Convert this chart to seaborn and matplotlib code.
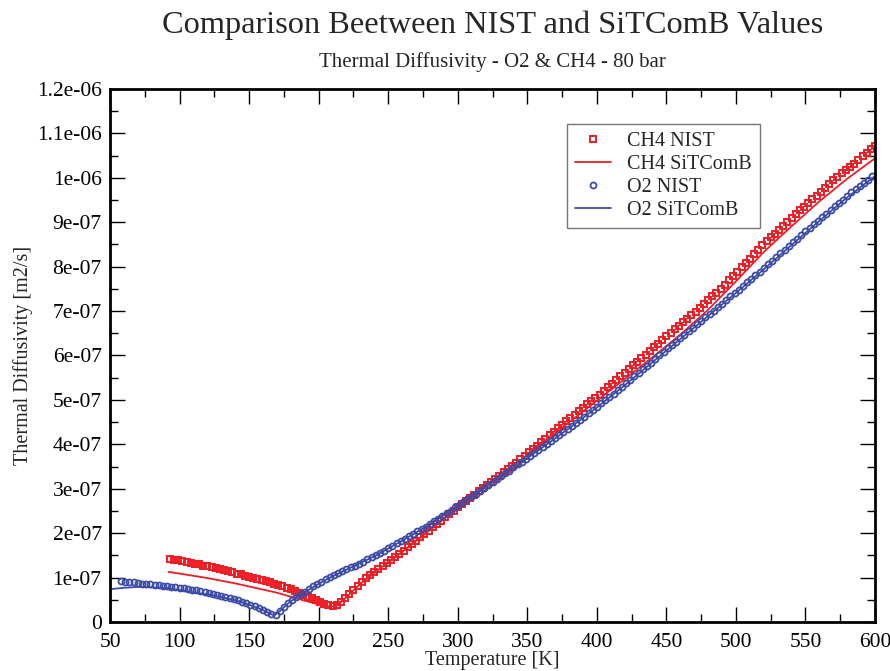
import numpy as np
import matplotlib
matplotlib.use('Agg')
import matplotlib.pyplot as plt
from matplotlib.ticker import MultipleLocator, FuncFormatter
import seaborn as sns

# values are in units of 1e-07 m2/s

# CH4 NIST: temperature grid 93 K .. 600 K every 3 K (one row = 30 K)
ch4_nist_T = np.arange(93, 601, 3)
ch4_nist = [
    1.42, 1.40, 1.385, 1.37, 1.35, 1.335, 1.315, 1.295, 1.27, 1.25,
    1.23, 1.21, 1.19, 1.165, 1.14, 1.115, 1.09, 1.07, 1.045, 1.02,
    0.995, 0.965, 0.94, 0.915, 0.89, 0.865, 0.84, 0.81, 0.775, 0.74,
    0.70, 0.66, 0.615, 0.57, 0.53, 0.49, 0.45, 0.41, 0.38, 0.36,
    0.38, 0.46, 0.55, 0.64, 0.73, 0.82, 0.90, 0.98, 1.05, 1.12,
    1.19, 1.26, 1.33, 1.40, 1.47, 1.54, 1.61, 1.69, 1.76, 1.83,
    1.91, 1.98, 2.06, 2.13, 2.21, 2.28, 2.36, 2.43, 2.51, 2.58,
    2.65, 2.72, 2.80, 2.87, 2.94, 3.01, 3.08, 3.15, 3.22, 3.29,
    3.37, 3.44, 3.52, 3.59, 3.67, 3.74, 3.82, 3.90, 3.97, 4.05,
    4.13, 4.21, 4.28, 4.36, 4.44, 4.52, 4.60, 4.67, 4.75, 4.82,
    4.90, 4.97, 5.05, 5.12, 5.20, 5.28, 5.36, 5.44, 5.53, 5.61,
    5.69, 5.78, 5.86, 5.94, 6.02, 6.11, 6.19, 6.27, 6.35, 6.43,
    6.51, 6.59, 6.67, 6.75, 6.83, 6.91, 6.99, 7.07, 7.16, 7.24,
    7.33, 7.41, 7.50, 7.59, 7.69, 7.79, 7.89, 7.99, 8.08, 8.18,
    8.28, 8.38, 8.48, 8.57, 8.66, 8.74, 8.83, 8.92, 9.01, 9.10,
    9.18, 9.27, 9.35, 9.44, 9.52, 9.60, 9.69, 9.77, 9.86, 9.94,
    10.02, 10.10, 10.17, 10.25, 10.32, 10.40, 10.48, 10.56, 10.64, 10.72,
]

# CH4 SiTComB (line)
ch4_sit_T = [92, 100, 110, 120, 130, 140, 150, 160, 170, 180, 190, 200, 205,
             210, 215, 220, 230, 240, 260, 280, 300, 320, 340, 360, 380, 400,
             420, 440, 460, 480, 500, 520, 540, 560, 580, 600]
ch4_sit = [1.13, 1.09, 1.04, 0.99, 0.93, 0.87, 0.80, 0.73, 0.66, 0.57, 0.48,
           0.40, 0.36, 0.35, 0.42, 0.56, 0.86, 1.11, 1.58, 2.07, 2.57, 3.04,
           3.52, 4.01, 4.50, 4.98, 5.47, 5.96, 6.47, 7.03, 7.67, 8.33, 8.91,
           9.47, 9.98, 10.44]

# O2 NIST: temperature grid 58 K .. 598 K every 3 K (one row = 30 K)
o2_nist_T = np.arange(58, 599, 3)
o2_nist = [
    0.92, 0.91, 0.90, 0.89, 0.87, 0.865, 0.855, 0.845, 0.835, 0.83,
    0.815, 0.805, 0.79, 0.78, 0.77, 0.755, 0.74, 0.725, 0.71, 0.69,
    0.67, 0.655, 0.635, 0.61, 0.59, 0.57, 0.545, 0.52, 0.49, 0.46,
    0.425, 0.39, 0.35, 0.31, 0.27, 0.22, 0.18, 0.16, 0.24, 0.34,
    0.43, 0.50, 0.56, 0.62, 0.68, 0.74, 0.80, 0.85, 0.91, 0.96,
    1.01, 1.05, 1.10, 1.14, 1.19, 1.23, 1.27, 1.31, 1.36, 1.41,
    1.46, 1.51, 1.56, 1.61, 1.66, 1.71, 1.77, 1.82, 1.88, 1.93,
    1.98, 2.04, 2.10, 2.15, 2.21, 2.27, 2.33, 2.39, 2.45, 2.51,
    2.58, 2.64, 2.70, 2.77, 2.83, 2.89, 2.96, 3.02, 3.08, 3.15,
    3.22, 3.28, 3.35, 3.41, 3.48, 3.55, 3.61, 3.68, 3.74, 3.81,
    3.88, 3.94, 4.01, 4.07, 4.14, 4.21, 4.28, 4.35, 4.42, 4.49,
    4.55, 4.62, 4.70, 4.77, 4.84, 4.92, 4.99, 5.07, 5.14, 5.22,
    5.30, 5.38, 5.45, 5.53, 5.61, 5.69, 5.77, 5.84, 5.92, 6.00,
    6.08, 6.16, 6.24, 6.31, 6.39, 6.47, 6.55, 6.62, 6.70, 6.78,
    6.86, 6.94, 7.01, 7.09, 7.17, 7.25, 7.33, 7.40, 7.48, 7.57,
    7.65, 7.73, 7.81, 7.89, 7.97, 8.05, 8.13, 8.21, 8.30, 8.38,
    8.46, 8.55, 8.63, 8.71, 8.80, 8.88, 8.96, 9.03, 9.11, 9.19,
    9.28, 9.36, 9.44, 9.51, 9.59, 9.67, 9.74, 9.82, 9.89, 9.96,
    10.03,
]

# O2 SiTComB (line)
o2_sit_T = [50, 60, 70, 80, 90, 100, 110, 120, 130, 140, 150, 160, 165, 168,
            172, 176, 180, 190, 200, 210, 220, 240, 260, 280, 300, 320, 340,
            360, 380, 400, 420, 440, 460, 480, 500, 520, 540, 560, 580, 600]
o2_sit = [0.74, 0.77, 0.79, 0.78, 0.76, 0.72, 0.67, 0.62, 0.56, 0.49, 0.39,
          0.27, 0.19, 0.15, 0.24, 0.36, 0.47, 0.67, 0.86, 1.03, 1.18, 1.48,
          1.83, 2.20, 2.61, 3.03, 3.47, 3.91, 4.36, 4.83, 5.33, 5.85, 6.37,
          6.89, 7.41, 7.94, 8.49, 9.03, 9.56, 10.04]

red = '#f01c24'
blue = '#3c4ca6'

sns.set_style('ticks')
plt.rcParams['font.family'] = ['Liberation Serif', 'DejaVu Serif']

fig = plt.figure(figsize=(8.9, 6.71), dpi=100)
ax = fig.add_axes([0.1236, 0.0730, 0.8596, 0.7944])

scale = 1e-7
sns.lineplot(x=ch4_nist_T, y=np.array(ch4_nist) * scale, ax=ax, color=red,
             marker='s', linestyle='', markersize=5, markerfacecolor='none',
             markeredgecolor=red, markeredgewidth=1.4, label='CH4 NIST')
sns.lineplot(x=ch4_sit_T, y=np.array(ch4_sit) * scale, ax=ax, color=red,
             linewidth=1.3, label='CH4 SiTComB')
sns.lineplot(x=o2_nist_T, y=np.array(o2_nist) * scale, ax=ax, color=blue,
             marker='o', linestyle='', markersize=4.3, markerfacecolor='none',
             markeredgecolor=blue, markeredgewidth=1.3, label='O2 NIST')
sns.lineplot(x=o2_sit_T, y=np.array(o2_sit) * scale, ax=ax, color=blue,
             linewidth=1.3, label='O2 SiTComB')

ax.set_xlim(50, 600)
ax.set_ylim(0, 1.2e-6)
ax.xaxis.set_major_locator(MultipleLocator(50))
ax.xaxis.set_minor_locator(MultipleLocator(25))
ax.yaxis.set_major_locator(MultipleLocator(1e-7))
ax.yaxis.set_minor_locator(MultipleLocator(5e-8))
ax.yaxis.set_major_formatter(FuncFormatter(lambda v, p: '%g' % v if abs(v) > 1e-12 else '0'))
ax.tick_params(which='both', direction='in', top=True, right=True, width=1.0,
               colors='black', labelsize=15.5)
ax.tick_params(which='major', length=11)
ax.tick_params(which='minor', length=6)
ax.tick_params(axis='x', which='major', pad=8)
ax.tick_params(axis='y', which='major', pad=6)
for s in ax.spines.values():
    s.set_linewidth(2.0)
    s.set_color('black')

ax.set_xlabel('Temperature [K]', fontsize=14.5, labelpad=-1)
ax.set_ylabel('Thermal Diffusivity [m2/s]', fontsize=14.5, labelpad=3)

leg = ax.legend(loc='upper left', bbox_to_anchor=(0.597, 0.935), fontsize=14.5,
                frameon=True, fancybox=False, edgecolor='#555555',
                handlelength=1.8, borderpad=0.4, labelspacing=0.2,
                handletextpad=0.8, borderaxespad=0)
leg.get_frame().set_linewidth(1.0)

fig.text(0.553, 0.963, 'Comparison Beetween NIST and SiTComB Values',
         ha='center', va='center', fontsize=23.3)
fig.text(0.553, 0.9076, 'Thermal Diffusivity - O2 & CH4 - 80 bar',
         ha='center', va='center', fontsize=15)

fig.savefig('out.png', dpi=100)
